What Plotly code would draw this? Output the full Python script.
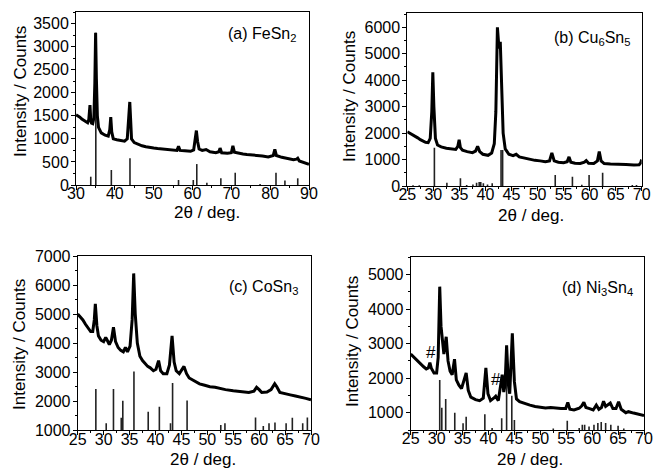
import plotly.graph_objects as go

# ---------------- (a) FeSn2 ----------------
a_x = [30.0, 30.5, 31, 31.5, 32, 32.5, 33, 33.3, 33.6, 33.8, 34, 34.3, 34.6, 34.85, 35.05, 35.25, 35.5, 35.8,
       36.5, 37.5, 38.3, 38.7, 38.95, 39.2, 39.6, 40.5, 41.5, 42.5, 43.2, 43.6, 43.85, 44.05, 44.3, 45, 46, 47,
       48, 49, 50, 51, 52, 53, 54, 55, 56, 56.4, 56.8, 58, 59.5, 60.3, 60.7, 61.0, 61.3, 61.7, 62.5, 63.5,
       64.5, 66, 66.8, 67.1, 67.5, 69, 70.0, 70.4, 70.8, 72, 73, 74, 76, 78, 79.5, 80.8, 81.2, 81.6, 83, 84,
       85, 86, 86.8, 87.1, 87.5, 88.5, 89.5, 90]
a_y = [1520, 1500, 1470, 1430, 1400, 1370, 1350, 1420, 1730, 1400, 1340, 1330, 1450, 2200, 3300, 2300, 1500, 1250,
       1130, 1080, 1060, 1200, 1470, 1150, 1000, 980, 960, 950, 1000, 1500, 1800, 1450, 1000, 920, 880, 850,
       830, 810, 800, 790, 780, 770, 760, 750, 750, 840, 750, 740, 730, 760, 950, 1180, 950, 780, 750, 770,
       720, 700, 720, 800, 700, 690, 700, 850, 710, 680, 670, 660, 650, 630, 610, 640, 770, 640, 600, 580,
       560, 550, 560, 580, 520, 490, 460, 450]
a_stick_x = [33.8, 35.1, 39.1, 43.9, 56.4, 60.2, 61.1, 63.7, 67.3, 71.0, 77.4, 81.5, 83.8, 87.1]
a_stick_y = [180, 3300, 325, 578, 108, 108, 454, 50, 145, 266, 20, 266, 100, 145]

# ---------------- (b) Cu6Sn5 ----------------
b_x = [25, 25.5, 26, 26.5, 27, 27.5, 28, 28.5, 29, 29.4, 29.7, 29.9, 30.1, 30.4, 30.8, 31.5, 32.5, 33.5, 34.3,
       34.7, 34.95, 35.2, 35.6, 36.5, 37.5, 38.1, 38.5, 38.9, 39.5, 40.5, 41.2, 41.7, 42.0, 42.3, 42.6, 42.85,
       43.1, 43.4, 43.8, 44.5, 45.3, 45.9, 46.5, 47.5, 48.5, 49.5, 50.5, 51.5, 52.3, 52.75, 53.2, 54, 55, 55.7,
       56.05, 56.4, 57.2, 58.2, 59.0, 59.35, 59.8, 60.8, 61.5, 61.85, 62.2, 62.8, 64, 65.5, 67, 68.5, 69.5,
       69.8, 70]
b_y = [2050, 2000, 1950, 1880, 1820, 1750, 1700, 1650, 1640, 1800, 2800, 4300, 3000, 1800, 1550, 1480, 1430,
       1400, 1380, 1500, 1750, 1450, 1350, 1300, 1260, 1320, 1500, 1300, 1200, 1160, 1250, 1600, 2800, 6000,
       5200, 5450, 4000, 2000, 1400, 1200, 1150, 1200, 1100, 1050, 1000, 970, 950, 920, 950, 1250, 950, 900,
       880, 920, 1100, 900, 860, 850, 900, 960, 860, 850, 950, 1300, 950, 850, 830, 830, 810, 790, 800, 870,
       1000]
b_stick_x = [26.1, 27.3, 30.2, 32.6, 35.2, 36.4, 37.6, 38.3, 38.8, 39.1, 39.6, 40.4, 41.3, 43.0, 43.3,
             53.4, 56.7, 58.5, 59.9, 62.5, 68.2, 69.0]
b_stick_y = [30, 30, 1450, 125, 290, 40, 60, 120, 150, 150, 100, 60, 100, 1360, 1360,
             415, 350, 50, 415, 500, 40, 40]

# ---------------- (c) CoSn3 ----------------
c_x = [25, 25.5, 26, 26.5, 27, 27.5, 27.9, 28.2, 28.4, 28.7, 29.0, 29.5, 30.0, 30.4, 30.7, 31.1, 31.5, 31.9,
       32.3, 32.8, 33.3, 33.8, 34.2, 34.6, 35.1, 35.5, 35.8, 36.1, 36.5, 37, 37.5, 38, 38.5, 39, 39.6, 40.1,
       40.6, 41.0, 41.5, 42.2, 42.7, 43.2, 43.6, 44.0, 44.6, 45.5, 46.0, 46.5, 47.5, 48.5, 49.5, 50.5, 51.5,
       52.5, 53.5, 55, 56.5, 58, 59.0, 59.5, 60.0, 60.5, 61.5, 62.3, 63.0, 63.4, 64, 65, 66, 67, 68, 69, 70]
c_y = [5000, 4900, 4800, 4650, 4500, 4400, 4400, 4800, 5350, 4600, 4250, 4100, 4050, 4200, 4100, 3950, 4100,
       4550, 4050, 3850, 3750, 3700, 3850, 3700, 3900, 4800, 6400, 5000, 4000, 3550, 3400, 3300, 3200, 3150,
       3050, 3100, 3400, 3050, 2950, 2950, 3250, 4250, 3350, 3050, 2950, 3200, 2950, 2800, 2700, 2600, 2550,
       2500, 2480, 2430, 2400, 2360, 2320, 2300, 2350, 2480, 2400, 2300, 2320, 2400, 2600, 2500, 2300, 2250,
       2220, 2180, 2150, 2100, 2050]
c_stick_x = [28.5, 30.5, 31.9, 33.4, 33.7, 35.85, 38.6, 40.75, 42.9, 43.3, 46.1, 52.6, 53.4, 59.3, 60.8,
             61.9, 63.05, 65.2, 66.4, 68.4, 69.3]
c_stick_y = [2420, 1240, 2420, 1430, 2020, 3020, 1640, 1810, 1240, 2630, 2030, 1180, 1240, 1440, 1150,
             1240, 1270, 1240, 1430, 1240, 1440]

# ---------------- (d) Ni3Sn4 ----------------
d_x = [25, 25.5, 26, 26.5, 27, 27.5, 28, 28.4, 28.7, 29.0, 29.5, 30.0, 30.3, 30.6, 30.85, 31.05, 31.4, 31.85,
       32.2, 32.6, 33.0, 33.45, 33.8, 34.3, 34.8, 35.1, 35.7, 36.1, 36.6, 37.5, 38.3, 39.0, 39.5, 39.9, 40.4,
       41.0, 41.4, 41.9, 42.4, 42.65, 42.95, 43.2, 43.5, 43.85, 44.1, 44.6, 45.0, 45.4, 46, 47, 48, 49, 50,
       51, 52, 53, 54, 54.9, 55.3, 55.7, 56.5, 57.5, 58.0, 58.4, 58.8, 59.5, 60.2, 60.8, 61.3, 61.8, 62.2,
       62.6, 63.0, 63.5, 64.0, 64.6, 65.1, 65.6, 66.5, 67, 68, 69, 70]
d_y = [2700, 2620, 2550, 2480, 2400, 2330, 2270, 2300, 2450, 2280, 2150, 2150, 2600, 4650, 3500, 3250, 2700,
       3200, 2500, 2200, 2100, 2550, 1950, 1800, 1700, 1850, 2150, 1650, 1450, 1380, 1350, 1420, 2300, 1550,
       1350, 1420, 1480, 1350, 1850, 2100, 1600, 1800, 2950, 1800, 1550, 3300, 1900, 1400, 1320, 1260, 1220,
       1180, 1160, 1140, 1150, 1130, 1120, 1120, 1300, 1100, 1080, 1130, 1200, 1300, 1150, 1120, 1080, 1220,
       1100, 1150, 1330, 1180, 1220, 1280, 1120, 1120, 1320, 1100, 1000, 1030, 990, 960, 920]
d_stick_x = [30.6, 31.0, 31.75, 33.5, 35.1, 35.7, 39.3, 40.7, 42.55, 43.5, 44.5, 45.0, 52.5, 55.2, 57.5,
             58.1, 58.55, 59.4, 60.35, 61.1, 61.75, 62.6, 63.6, 65.0, 66.1]
d_stick_y = [1945, 1145, 1400, 1000, 695, 885, 955, 560, 840, 2900, 1490, 790, 540, 770, 560,
             650, 650, 600, 650, 700, 730, 700, 650, 620, 540]

# tick / label texts
y_title = "Intensity / Counts"
x_title = "2θ / deg."
panel_labels = ["(a) FeSn<sub>2</sub>", "(b) Cu<sub>6</sub>Sn<sub>5</sub>",
                "(c) CoSn<sub>3</sub>", "(d) Ni<sub>3</sub>Sn<sub>4</sub>"]
hash_x = [29.0, 41.5]
hash_y = [2750, 1950]

W, H = 653, 469
def px(x):
    return x / W
def py(y):
    return 1 - y / H

panels = [
    dict(x=a_x, y=a_y, sx=a_stick_x, sy=a_stick_y, base=0,
         xr=[30, 90], yr=[0, 3750], xd=10, xm=5, yd=500, ym=250,
         dom_x=[px(76), px(309)], dom_y=[py(185), py(12)],
         ytpos=(20, 92), xtpos=(207, 212), lpos=(262, 34)),
    dict(x=b_x, y=b_y, sx=b_stick_x, sy=b_stick_y, base=0,
         xr=[25, 70], yr=[0, 6540], xd=5, xm=2.5, yd=1000, ym=500,
         dom_x=[px(407.3), px(641.7)], dom_y=[py(186), py(13)],
         ytpos=(349, 97), xtpos=(531, 215), lpos=(592, 38)),
    dict(x=c_x, y=c_y, sx=c_stick_x, sy=c_stick_y, base=1000,
         xr=[25, 70], yr=[1000, 7000], xd=5, xm=2.5, yd=1000, ym=500,
         dom_x=[px(77.7), px(311)], dom_y=[py(430.3), py(256)],
         ytpos=(19, 345), xtpos=(203, 459), lpos=(263, 287)),
    dict(x=d_x, y=d_y, sx=d_stick_x, sy=d_stick_y, base=500,
         xr=[25, 70], yr=[500, 5500], xd=5, xm=2.5, yd=1000, ym=500,
         dom_x=[px(410.7), px(644)], dom_y=[py(430), py(257.3)],
         ytpos=(352, 342), xtpos=(530, 459), lpos=(597, 288)),
]

FONT = "Liberation Sans, Arial, sans-serif"
fig = go.Figure()
annotations = []
layout = {}

for i, p in enumerate(panels):
    n = "" if i == 0 else str(i + 1)
    xa, ya = "x" + n, "y" + n
    # reference sticks
    sxs, sys_ = [], []
    for xv, yv in zip(p["sx"], p["sy"]):
        sxs += [xv, xv, None]
        sys_ += [p["base"], yv, None]
    fig.add_trace(go.Scatter(x=sxs, y=sys_, mode="lines", xaxis=xa, yaxis=ya,
                             line=dict(color="#222222", width=1.6), showlegend=False,
                             hoverinfo="skip"))
    # measured pattern
    fig.add_trace(go.Scatter(x=p["x"], y=p["y"], mode="lines", xaxis=xa, yaxis=ya,
                             line=dict(color="black", width=3), showlegend=False))
    common = dict(showline=True, linecolor="black", linewidth=1, mirror=True,
                  ticks="outside", ticklen=4, tickwidth=1, tickcolor="black",
                  showgrid=False, zeroline=False, automargin=False,
                  tickfont=dict(family=FONT, size=16, color="black"))
    layout["xaxis" + n] = dict(domain=p["dom_x"], range=p["xr"], anchor=ya, dtick=p["xd"], tick0=0,
                               ticklabelstandoff=-10,
                               minor=dict(ticks="outside", ticklen=2, dtick=p["xm"], tickcolor="black"),
                               **common)
    layout["yaxis" + n] = dict(domain=p["dom_y"], range=p["yr"], anchor=xa, dtick=p["yd"], tick0=0,
                               ticklabelstandoff=-1,
                               minor=dict(ticks="outside", ticklen=2, dtick=p["ym"], tickcolor="black"),
                               **common)
    annotations.append(dict(text=y_title, x=px(p["ytpos"][0]), y=py(p["ytpos"][1]), xref="paper",
                            yref="paper", textangle=-90, showarrow=False, xanchor="center",
                            yanchor="middle", font=dict(family=FONT, size=17, color="black")))
    annotations.append(dict(text=x_title, x=px(p["xtpos"][0]), y=py(p["xtpos"][1]), xref="paper",
                            yref="paper", showarrow=False, xanchor="center", yanchor="middle",
                            font=dict(family=FONT, size=17, color="black")))
    annotations.append(dict(text=panel_labels[i], x=px(p["lpos"][0]), y=py(p["lpos"][1]), xref="paper",
                            yref="paper", showarrow=False, xanchor="center", yanchor="middle",
                            font=dict(family=FONT, size=16, color="black")))

for hx, hy in zip(hash_x, hash_y):
    annotations.append(dict(text="#", x=hx, y=hy, xref="x4", yref="y4", showarrow=False,
                            xanchor="center", yanchor="middle",
                            font=dict(family=FONT, size=17, color="black")))

fig.update_layout(width=W, height=H, autosize=False,
                  margin=dict(l=0, r=0, t=0, b=0, pad=0, autoexpand=False),
                  paper_bgcolor="white", plot_bgcolor="white", annotations=annotations, **layout)

# place the figure at the top-left corner of the page (no body margin)
post = ("document.body.style.margin='0';document.body.style.padding='0';"
        "var gd=document.getElementById('{plot_id}');"
        "gd.style.position='absolute';gd.style.left='0px';gd.style.top='0px';")
fig.write_html("out.html", post_script=post, config={"displayModeBar": False})
